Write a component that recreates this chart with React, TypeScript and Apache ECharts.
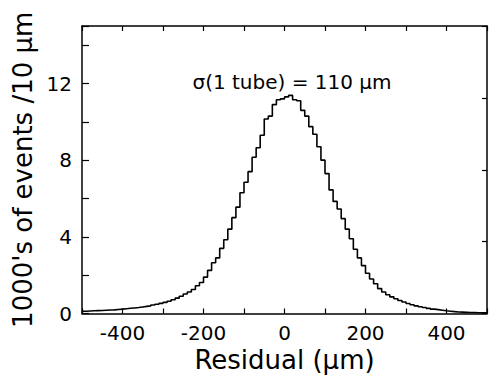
import React, { useEffect, useRef } from "react";
import * as echarts from "echarts";

// Histogram: 1000's of events per 10 µm bin, bins from -500 µm to +500 µm
const binStart = -500;
const binWidth = 10;
const counts: number[] = [
  // -500 .. -410
  0.12, 0.13, 0.14, 0.15, 0.16, 0.17, 0.18, 0.19, 0.21, 0.23,
  // -400 .. -310
  0.25, 0.27, 0.29, 0.31, 0.34, 0.37, 0.40, 0.44, 0.48, 0.53,
  // -300 .. -210
  0.58, 0.64, 0.72, 0.80, 0.90, 1.02, 1.12, 1.25, 1.45, 1.62,
  // -200 .. -110
  1.90, 2.25, 2.65, 2.90, 3.40, 3.85, 4.40, 5.00, 5.55, 6.30,
  // -100 .. -10
  6.85, 7.40, 8.15, 8.65, 9.30, 10.15, 10.30, 10.90, 11.15, 11.20,
  // 0 .. 90
  11.30, 11.38, 11.15, 11.10, 10.60, 10.30, 9.75, 9.35, 8.70, 8.00,
  // 100 .. 190
  7.30, 6.45, 5.85, 5.45, 4.95, 4.40, 3.90, 3.35, 2.90, 2.50,
  // 200 .. 290
  2.10, 1.80, 1.55, 1.30, 1.12, 0.98, 0.87, 0.77, 0.68, 0.60,
  // 300 .. 390
  0.52, 0.46, 0.40, 0.35, 0.31, 0.27, 0.23, 0.20, 0.17, 0.14,
  // 400 .. 490
  0.12, 0.10, 0.08, 0.07, 0.06, 0.05, 0.05, 0.04, 0.04, 0.04,
];
const xLabels = [-400, -200, 0, 200, 400];
const yLabels = [0, 4, 8, 12];
const xTitle = "Residual (\u00b5m)";
const yTitle = "1000's of events /10 \u00b5m";
const annotation = "\u03c3(1 tube) = 110 \u00b5m";

const FONT = "DejaVu Sans";

export default function App() {
  const ref = useRef<HTMLDivElement>(null);

  useEffect(() => {
    if (!ref.current) return;
    const chart = echarts.init(ref.current, undefined, { renderer: "svg" });

    const points: [number, number][] = counts.map((v, i) => [binStart + i * binWidth, v]);
    points.push([binStart + counts.length * binWidth, counts[counts.length - 1]]);

    const axisLine = { show: true, onZero: false, lineStyle: { color: "#000", width: 1.5 } };
    const tickStyle = { color: "#000", width: 1.2 };

    chart.setOption({
      animation: false,
      backgroundColor: "#fff",
      grid: { left: 82, top: 26, width: 410, height: 287.5, containLabel: false },
      xAxis: [
        {
          type: "value",
          min: -500,
          max: 500,
          interval: 100,
          position: "bottom",
          axisLine,
          axisTick: { show: true, inside: true, length: 5, lineStyle: tickStyle },
          splitLine: { show: false },
          axisLabel: {
            color: "#000",
            fontFamily: FONT,
            fontSize: 20,
            margin: 9,
            formatter: (v: number) => (xLabels.includes(v) ? String(v) : ""),
          },
          name: xTitle,
          nameLocation: "middle",
          nameGap: 26,
          nameTextStyle: { color: "#000", fontFamily: FONT, fontSize: 26, verticalAlign: "top" },
        },
        {
          type: "value",
          min: -500,
          max: 500,
          interval: 100,
          position: "top",
          axisLine,
          axisTick: { show: true, inside: true, length: 5, lineStyle: tickStyle },
          splitLine: { show: false },
          axisLabel: { show: false },
        },
      ],
      yAxis: [
        {
          type: "value",
          min: 0,
          max: 15,
          interval: 2,
          position: "left",
          axisLine,
          axisTick: { show: true, inside: true, length: 7, lineStyle: tickStyle },
          splitLine: { show: false },
          axisLabel: {
            color: "#000",
            fontFamily: FONT,
            fontSize: 20,
            margin: 10,
            formatter: (v: number) => (yLabels.includes(v) ? String(v) : ""),
          },
          name: yTitle,
          nameLocation: "middle",
          nameGap: 42,
          nameRotate: 90,
          nameTextStyle: { color: "#000", fontFamily: FONT, fontSize: 26 },
        },
        {
          type: "value",
          min: 0,
          max: 16,
          interval: 4,
          position: "right",
          axisLine,
          axisTick: { show: true, inside: true, length: 5, lineStyle: tickStyle },
          splitLine: { show: false },
          axisLabel: { show: false },
        },
      ],
      graphic: [
        {
          type: "text",
          x: 292,
          y: 82,
          style: {
            text: annotation,
            fill: "#000",
            font: `20px "${FONT}"`,
            textAlign: "center",
            textVerticalAlign: "middle",
          },
        },
      ],
      series: [
        {
          type: "line",
          xAxisIndex: 0,
          yAxisIndex: 0,
          step: "end",
          data: points,
          showSymbol: false,
          symbol: "none",
          lineStyle: { color: "#000", width: 1.6 },
          clip: true,
        },
      ],
    });

    return () => chart.dispose();
  }, []);

  return (
    <div
      ref={ref}
      style={{ position: "fixed", left: 0, top: 0, width: 490, height: 380, background: "#fff" }}
    />
  );
}
